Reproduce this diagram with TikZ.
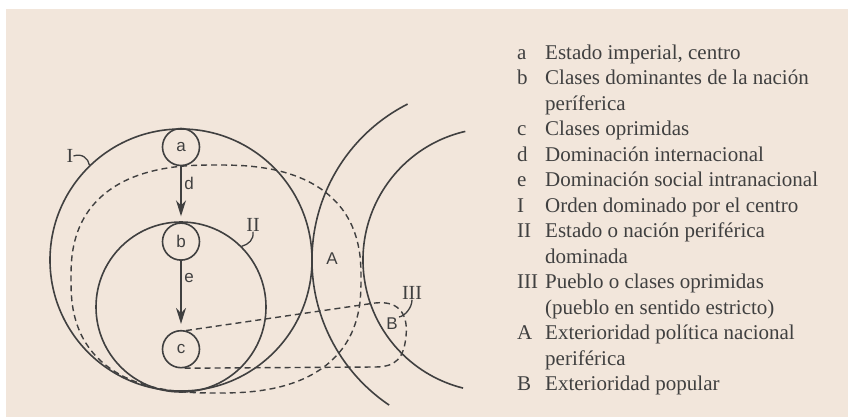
\documentclass[tikz,border=0pt]{standalone}
\usepackage{fontspec}
\setmainfont{Liberation Serif}
\newfontfamily\lblfont{Liberation Sans}
\usepackage{tikz}
\usetikzlibrary{arrows.meta,positioning}
\definecolor{paper}{HTML}{F2E6DB}
\definecolor{ink}{HTML}{404040}

\begin{document}
\begin{tikzpicture}[x=1pt,y=-1pt,
    line/.style={draw=ink,line width=1.6pt},
    broken/.style={draw=ink,line width=1.4pt,dash pattern=on 6pt off 4pt},
    ring/.style={circle,draw=ink,line width=1.6pt,inner sep=0pt},
    small/.style={ring,minimum size=37pt,font=\lblfont\fontsize{17}{17}\selectfont,text=ink},
    lbl/.style={inner sep=0pt,font=\lblfont\fontsize{17}{17}\selectfont,text=ink},
    tag/.style={inner sep=0pt,font=\fontsize{20}{20}\selectfont,text=ink},
    hook/.style={draw=ink,line width=1.3pt},
    flow/.style={draw=ink,line width=1.6pt,-{Stealth[length=16pt,width=10pt]},shorten >=6pt}]
    \fill[paper] (6,9.5) rectangle (848,417);
    \useasboundingbox (0,0) rectangle (848,417);
    % circles
    \node (I) [ring,minimum size=262pt] at (181,260) {};
    \node (II) [ring,minimum size=170pt] at (181,307) {};
    \node (a) [small] at (181,147) {a};
    \node (b) [small,below=56pt of a] {b};
    \node (c) [small,below=69pt of b] {c};
    \draw[flow] (a) -- (b);
    \draw[flow] (b) -- (c);
    \node (d) [lbl] at (189,183) {d};
    \node (e) [lbl] at (189,278) {e};
    % exterior arcs
    \draw[line] (487,260) ++(-117:175) arc[start angle=-117,end angle=-236,radius=175];
    \draw[line] (495,260) ++(-103:132) arc[start angle=-103,end angle=-256,radius=132];
    % dashed regions
    \draw[broken] plot[smooth cycle,domain=2.5:357.5,samples=72]
        ({216+145*(cos(\x)<0 ? -1 : 1)*pow(abs(cos(\x)),0.8)},{279+114*(sin(\x)<0 ? -1 : 1)*pow(abs(sin(\x)),0.8)});
    \draw[broken] (c.75) -- (375,303) .. controls (402,300) and (408,318) .. (406,336)
        .. controls (404,358) and (396,367) .. (375,367) -- (c.-80);
    \node (A) [lbl] at (332,259) {A};
    \node (B) [lbl] at (392,324) {B};
    \node (lI) [tag] at (70,156) {I};
    \node (lII) [tag] at (253,225) {II};
    \node (lIII) [tag] at (412,293) {III};
    \coordinate (endIII) at (399,317);
    \draw[hook] (lI.east) .. controls +(8,-3) and +(-1,-7) .. (I.134);
    \draw[hook] (lII.south) .. controls +(1,8) and +(7,-2) .. (II.45);
    \draw[hook] (lIII.south) .. controls +(0,8) and +(6,-1) .. (endIII);
    % legend
    \node (legend) [anchor=base west,inner sep=0pt,text=ink,font=\fontsize{21}{25.5}\selectfont] at (517,59.3) {%
      \begin{tabular}[t]{@{}p{28pt}@{}l@{}}
        a & Estado imperial, centro\\
        b & Clases dominantes de la nación\\
          & períferica\\
        c & Clases oprimidas\\
        d & Dominación internacional\\
        e & Dominación social intranacional\\
        I & Orden dominado por el centro\\
        II & Estado o nación periférica\\
           & dominada\\
        III & Pueblo o clases oprimidas\\
            & (pueblo en sentido estricto)\\
        A & Exterioridad política nacional\\
          & periférica\\
        B & Exterioridad popular
      \end{tabular}};
\end{tikzpicture}
\end{document}
